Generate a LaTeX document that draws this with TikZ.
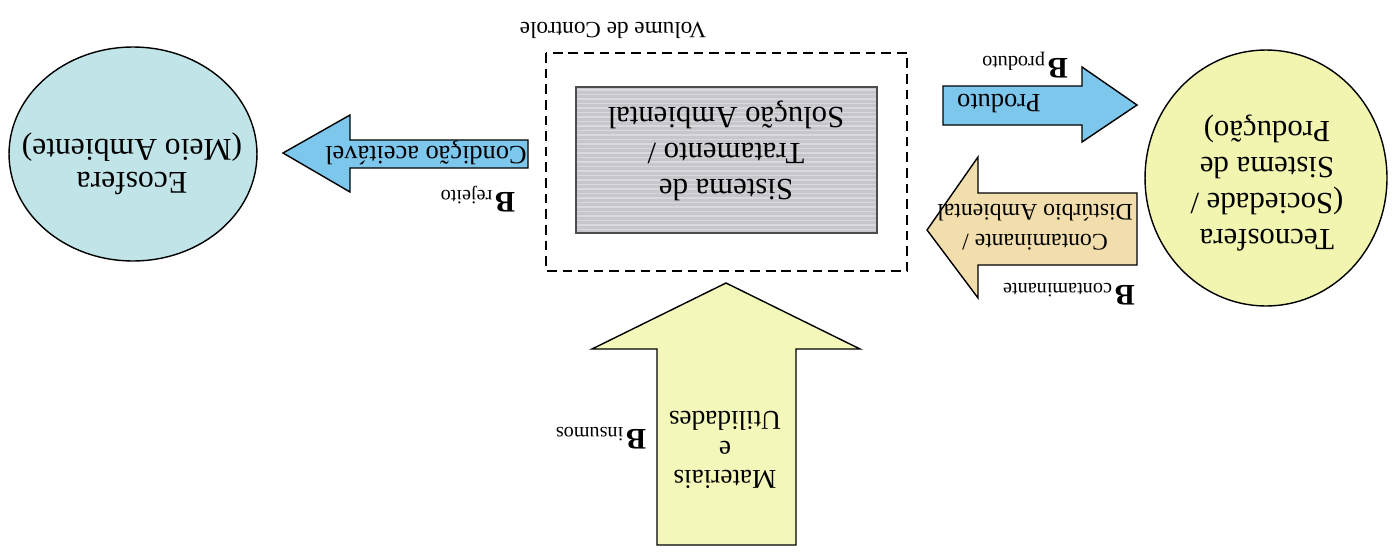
\documentclass[tikz,border=0pt]{standalone}
\usepackage{fontspec}
\setmainfont{Liberation Serif}
\usetikzlibrary{shapes.geometric}

\definecolor{ecoblue}{RGB}{192,228,232}
\definecolor{tecnoyellow}{RGB}{241,245,176}
\definecolor{insumoyellow}{RGB}{243,247,186}
\definecolor{flowblue}{RGB}{125,198,236}
\definecolor{contambeige}{RGB}{241,222,172}
\definecolor{boxgray}{RGB}{198,198,204}

% big bold B followed by the flux name
\newcommand{\bflux}[1]{{\fontsize{17}{17}\selectfont\bfseries B}\,{\fontsize{11.5}{12}\selectfont\raisebox{-1pt}{#1}}}

\begin{document}
\begin{tikzpicture}[x=0.02cm,y=-0.02cm,
    sphere/.style={ellipse,draw,line width=0.8pt,inner sep=0pt},
    flow/.style={draw,line width=0.8pt,line join=miter},
    upside/.style={rotate=180,align=center,inner sep=0pt},
    bigtxt/.style={upside,font=\fontsize{17.5}{20.4}\selectfont},
    flowtxt/.style={upside,font=\fontsize{15}{17}\selectfont}]
        \useasboundingbox[fill=white] (0,0) rectangle (1399,551);

        % the two spheres
        \node[sphere,fill=ecoblue,minimum width=4.96cm,minimum height=4.28cm] (eco) at (133,154) {};
        \node[upside,font=\fontsize{18}{18.7}\selectfont] (ecotxt) at (132,164) {Ecosfera\\(Meio Ambiente)};

        \node[sphere,fill=tecnoyellow,minimum width=4.84cm,minimum height=5.12cm] (tecno) at (1266,178) {};
        \node[bigtxt] (tecnotxt) at (1267,183) {Tecnosfera\\(Sociedade /\\Sistema de\\Produção)};

        % control volume and treatment system
        \draw[line width=1.4pt,dash pattern=on 5.5pt off 3.4pt] (546,53) rectangle (907,271);
        \node[upside,font=\fontsize{13.2}{15}\selectfont] (vc) at (613,30) {Volume de Controle};

        \fill[boxgray] (576,87) rectangle (877,233);
        \foreach \y in {90,94.5,...,231} {
          \draw[white,opacity=.35,line width=.8pt] (577,\y) -- (876,\y);
        }
        \draw[line width=1.3pt,black!70] (576,87) rectangle (877,233);
        \node[bigtxt] (sistema) at (726,151) {Sistema de\\Tratamento /\\Solução Ambiental};

        % flux arrows
        \draw[flow,fill=flowblue] (528,140) -- (350,140) -- (350,115) -- (283,153)
          -- (350,192) -- (350,168) -- (528,168) -- cycle;
        \node[flowtxt] (rejtxt) at (426,153) {Condição aceitável};
        \node[upside] (rej) at (478,199) {\bflux{rejeito}};

        \draw[flow,fill=flowblue] (943,86) -- (1082,86) -- (1082,67) -- (1137,105)
          -- (1082,142) -- (1082,125) -- (943,125) -- cycle;
        \node[flowtxt] (prodtxt) at (999,104) {Produto};
        \node[upside] (prod) at (1025,65) {\bflux{produto}};

        \draw[flow,fill=contambeige] (1137,193) -- (978,193) -- (978,157) -- (927,230)
          -- (978,298) -- (978,265) -- (1137,265) -- cycle;
        \node[upside,font=\fontsize{13.5}{17}\selectfont] (contxt) at (1035,227) {Contaminante /\\Distúrbio Ambiental};
        \node[upside] (con) at (1069,294) {\bflux{contaminante}};

        \draw[flow,fill=insumoyellow] (657,545) -- (657,349) -- (592,349) -- (726,283)
          -- (860,349) -- (796,349) -- (796,545) -- cycle;
        \node[upside,font=\fontsize{15.5}{17}\selectfont] (instxt) at (725,450) {Materiais\\e\\Utilidades};
        \node[upside] (ins) at (601,438) {\bflux{insumos}};
      \end{tikzpicture}
\end{document}
